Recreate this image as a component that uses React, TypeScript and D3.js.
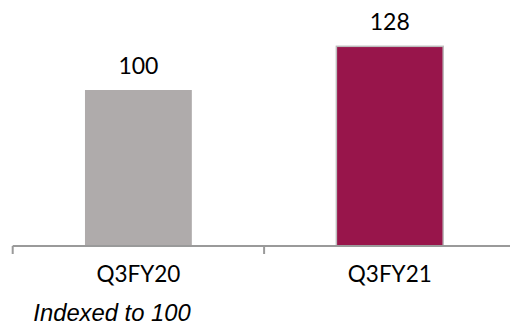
import React from "react";
import * as d3 from "d3";

const categories: string[] = ["Q3FY20", "Q3FY21"];
const values: number[] = [100, 128];
const barColors: string[] = ["#AFABAB", "#98154B"];
const barStrokes: string[] = ["none", "#BDBDBD"];
const footnote = "Indexed to 100";

export default function App() {
  const W = 510;
  const H = 325;
  const baseY = 246;
  const x = d3.scaleBand<string>().domain(categories).range([12.7, 515.5]).padding(0);
  const y = d3.scaleLinear().domain([0, 150]).range([baseY, baseY - 234]);
  const bw = x.bandwidth() * 0.425;
  const font = "Lato, 'Open Sans', sans-serif";

  return (
    <svg
      width={W}
      height={H}
      style={{ position: "absolute", left: 0, top: 0, background: "#fff" }}
    >
      {categories.map((c, i) => {
        const cx = (x(c) as number) + x.bandwidth() / 2;
        const top = y(values[i]);
        return (
          <g key={c}>
            <rect
              x={cx - bw / 2}
              y={top}
              width={bw}
              height={baseY - top}
              fill={barColors[i]}
              stroke={barStrokes[i]}
              strokeWidth={1.5}
            />
            <text
              x={cx}
              y={top - 16.5}
              textAnchor="middle"
              fontFamily={font}
              fontSize={23}
              fill="#000"
            >
              {values[i]}
            </text>
            <text
              x={cx}
              y={281.5}
              textAnchor="middle"
              fontFamily={font}
              fontSize={22.5}
              fill="#000"
            >
              {c}
            </text>
          </g>
        );
      })}
      <line x1={12.7} x2={W} y1={baseY} y2={baseY} stroke="#9A9A9A" strokeWidth={2} />
      {categories.map((c) => (
        <line
          key={"t" + c}
          x1={x(c) as number}
          x2={x(c) as number}
          y1={baseY}
          y2={254}
          stroke="#9A9A9A"
          strokeWidth={2}
        />
      ))}
      <text
        x={33.3}
        y={320.7}
        fontFamily="'Liberation Sans', Arial, sans-serif"
        fontStyle="italic"
        fontSize={23.8}
        fill="#000"
      >
        {footnote}
      </text>
    </svg>
  );
}
